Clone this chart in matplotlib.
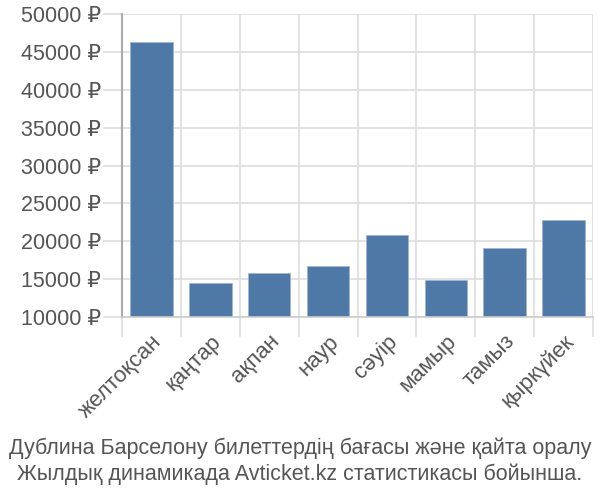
import matplotlib.pyplot as plt

plt.rcParams['font.family'] = ['Liberation Sans', 'DejaVu Sans']

# data
months = ['желтоқсан', 'қаңтар', 'ақпан', 'наур', 'сәуір', 'мамыр', 'тамыз', 'қыркүйек']
prices = [46300, 14500, 15780, 16670, 20770, 14900, 19050, 22790]
yticks = [10000, 15000, 20000, 25000, 30000, 35000, 40000, 45000, 50000]
title = 'Дублина Барселону билеттердің бағасы және қайта оралу\nЖылдық динамикада Avticket.kz статистикасы бойынша.'

fig = plt.figure(figsize=(6, 5), dpi=100)
ax = fig.add_axes([122/600, 1-317/500, (593-122)/600, (317-14)/500])

x = range(len(months))
ax.bar(x, prices, width=0.72, bottom=0, color='#4e79a7', edgecolor='#9fb6d3', linewidth=0.6, zorder=2)

ax.set_xlim(-0.5, len(months) - 0.5)
ax.set_ylim(10000, 50000)
ax.set_yticks(yticks)
ax.set_yticklabels(['%d ₽' % v for v in yticks])

# vertical grid at category boundaries
for b in range(len(months) + 1):
    ax.axvline(b - 0.5, color='#dddddd', lw=1.2, zorder=1)
    ax.plot([b - 0.5, b - 0.5], [10000, 7500], color='#dddddd', lw=1.2, clip_on=False)
ax.yaxis.grid(True, color='#dddddd', lw=1.2, zorder=1)

ax.set_xticks(list(x))
ax.set_xticklabels(months, rotation=45, ha='right', va='top', rotation_mode='anchor')
ax.tick_params(axis='x', length=0, pad=10, labelsize=16, colors='#555555')
ax.tick_params(axis='y', length=14, width=1.2, color='#dddddd', labelsize=15.5, labelcolor='#555555', pad=1)

for s in ['top', 'right']:
    ax.spines[s].set_visible(False)
ax.spines['left'].set_color('#aaaaaa')
ax.spines['left'].set_linewidth(1.5)
ax.spines['bottom'].set_color('#cccccc')
ax.spines['bottom'].set_linewidth(1.2)

fig.text(0.5, 1-461/500, title, ha='center', va='center', fontsize=15.5, color='#555555', linespacing=1.25)

plt.savefig('out.png', dpi=100)
